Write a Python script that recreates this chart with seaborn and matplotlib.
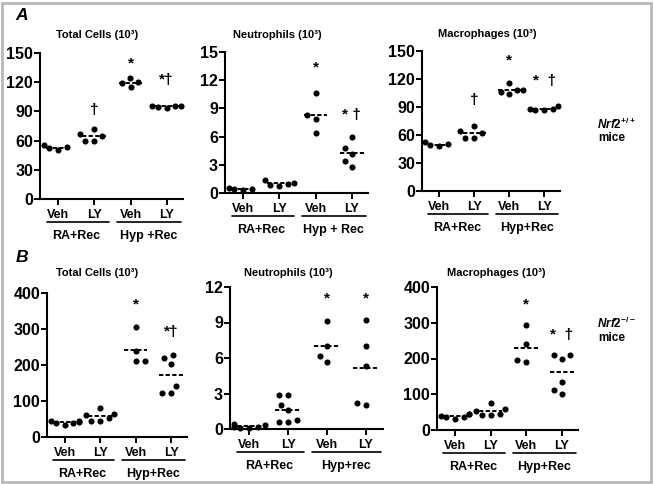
import warnings
import numpy as np
import pandas as pd
import matplotlib
matplotlib.use("Agg")
import matplotlib.pyplot as plt
import matplotlib.transforms as mtransforms
from matplotlib.patches import Rectangle
import seaborn as sns

warnings.filterwarnings("ignore")

# ---------------- data ----------------
groups = ["RA Veh", "RA LY", "Hyp Veh", "Hyp LY"]
tick_labels = ["Veh", "LY", "Veh", "LY"]

# Nrf2+/+ mice
a_total = [[53, 50, 55, 52], [65, 72, 67, 60, 60], [119, 124, 120, 115], [96, 96, 93, 96, 95]]
a_neut = [[0.4, 0.3, 0.5, 0.4], [1.1, 1.4, 0.7, 1.0, 0.9], [8.3, 10.6, 7.9, 6.4], [4.8, 6.0, 4.2, 2.8, 3.4]]
a_macro = [[50, 48, 52, 49], [62, 70, 64, 57, 57], [108, 116, 104, 106, 108], [88, 91, 87, 87, 88]]
# Nrf2-/- mice
b_total = [[42, 38, 45, 33, 40, 44], [60, 80, 52, 45, 45, 65], [305, 240, 212, 212], [228, 220, 204, 141, 121, 121]]
b_neut = [[0.2, 0.1, 0.3, 0.4, 0.2, 0.1], [2.0, 2.9, 2.9, 0.8, 0.55, 0.55, 1.6], [9.1, 7.0, 6.2, 5.7], [9.25, 7.0, 5.3, 2.05, 2.2]]
b_macro = [[40, 32, 44, 35, 46, 36], [53, 75, 45, 42, 58, 43], [293, 240, 191, 196], [210, 200, 209, 135, 102, 113]]

titles = ["Total Cells (10³)", "Neutrophils (10³)", "Macrophages (10³)"]
a_group_labels = [["RA+Rec", "Hyp +Rec"], ["RA+Rec", "Hyp + Rec"], ["RA+Rec", "Hyp+Rec"]]
b_group_labels = [["RA+Rec", "Hyp+Rec"], ["RA+Rec", "Hyp+rec"], ["RA+Rec", "Hyp+Rec"]]

# significance marks and their heights (data units)
a_sig = [["", "†", "*", "*†"], ["", "", "*", "* †"], ["", "†", "*", "*  †"]]
a_sig_y = [[0, 91, 139, 122], [0, 0, 13.4, 8.3], [0, 97, 140, 118]]
b_sig = [["", "", "*", "*†"], ["", "", "*", "*"], ["", "", "*", "*  †"]]
b_sig_y = [[0, 0, 367, 293], [0, 0, 11.0, 11.0], [0, 0, 352, 267]]

a_ymax = [150, 15, 150]
a_ystep = [30, 3, 30]
b_ymax = [400, 12, 400]
b_ystep = [100, 3, 100]

# ---------------- style ----------------
sns.set_theme(style="ticks")
plt.rcParams["font.family"] = ["Liberation Sans", "DejaVu Sans"]
plt.rcParams["font.weight"] = "bold"
plt.rcParams["mathtext.fontset"] = "custom"
plt.rcParams["mathtext.it"] = "Liberation Sans:italic"
plt.rcParams["mathtext.rm"] = "Liberation Sans:bold"
for k in ["text.color", "axes.labelcolor", "xtick.color", "ytick.color", "axes.edgecolor"]:
    plt.rcParams[k] = "black"

W, H = 654, 484
fig = plt.figure(figsize=(W / 100, H / 100), dpi=100)
fig.patch.set_facecolor("white")

LAYOUT_SIZE = 6.2   # marker size used to lay out the swarm (spread like Prism)
DOT_SIZE = 4.4      # marker size actually drawn


def px_rect(x0, x1, ytop, ybot):
    return [x0 / W, 1 - ybot / H, (x1 - x0) / W, (ybot - ytop) / H]


def fpos(x, y):
    return x / W, 1 - y / H


rects_a = [(40, 183, 53, 199), (225, 368, 52, 193), (422, 560, 51, 191)]
rects_b = [(47, 187, 293, 437), (230, 383, 287, 429), (437, 578, 287, 430)]
title_pos_a = [(97, 35), (277, 35), (487, 34)]
title_pos_b = [(97, 273), (288, 273), (496, 273)]

all_axes = []


def panel(rect, values, ymax, ystep, sig, sig_y, glabels):
    ax = fig.add_axes(px_rect(*rect))
    df = pd.DataFrame({
        "group": [g for g, v in zip(groups, values) for _ in v],
        "value": [x for v in values for x in v],
    })
    sns.swarmplot(data=df, x="group", y="value", order=groups, color="black",
                  size=LAYOUT_SIZE, ax=ax, linewidth=0)
    for c in ax.collections:
        c.set_clip_on(False)
    means = df.groupby("group")["value"].mean().reindex(groups).to_numpy()
    ax.hlines(means, np.arange(4) - 0.33, np.arange(4) + 0.33, colors="black",
              linestyles=(0, (2.2, 1.2)), linewidth=1.4, zorder=1)
    ax.set_xlim(-0.5, 3.45)
    ax.set_ylim(0, ymax)
    ax.set_yticks(np.arange(0, ymax + ystep / 2, ystep))
    ax.set_xticks(range(4))
    ax.set_xticklabels(tick_labels, fontsize=9, fontweight="bold")
    ax.tick_params(axis="y", labelsize=11.5, length=4, width=1.4, direction="out", pad=1)
    ax.tick_params(axis="x", length=4, width=1.4, direction="out", pad=3)
    for lab in ax.get_yticklabels():
        lab.set_fontweight("bold")
    ax.set_xlabel("")
    ax.set_ylabel("")
    sns.despine(ax=ax)
    ax.spines["left"].set_linewidth(1.5)
    ax.spines["bottom"].set_linewidth(1.5)
    # group underline + labels
    tline = mtransforms.offset_copy(ax.get_xaxis_transform(), fig=fig, y=-23, units="dots")
    tlab = mtransforms.offset_copy(ax.get_xaxis_transform(), fig=fig, y=-37, units="dots")
    for (xa, xb), lab, xc in zip([(-0.32, 1.4), (1.62, 3.4)], glabels, [0.5, 2.5]):
        ax.plot([xa, xb], [0, 0], color="black", lw=1.2, transform=tline, clip_on=False)
        ax.text(xc, 0, lab, transform=tlab, ha="center", va="center",
                fontsize=9, fontweight="bold")
    for i, (s, y) in enumerate(zip(sig, sig_y)):
        if s:
            ax.text(i, y, s, ha="center", va="center", fontsize=11, fontweight="bold")
    all_axes.append(ax)
    return ax


for i in range(3):
    panel(rects_a[i], [a_total, a_neut, a_macro][i], a_ymax[i], a_ystep[i],
          a_sig[i], a_sig_y[i], a_group_labels[i])
    fig.text(*fpos(*title_pos_a[i]), titles[i], ha="center", va="center",
             fontsize=8, fontweight="bold")
    panel(rects_b[i], [b_total, b_neut, b_macro][i], b_ymax[i], b_ystep[i],
          b_sig[i], b_sig_y[i], b_group_labels[i])
    fig.text(*fpos(*title_pos_b[i]), titles[i], ha="center", va="center",
             fontsize=8, fontweight="bold")

fig.text(*fpos(22, 15), "A", ha="center", va="center", fontsize=12.5,
         fontweight="bold", fontstyle="italic")
fig.text(*fpos(22, 257), "B", ha="center", va="center", fontsize=12.5,
         fontweight="bold", fontstyle="italic")

fig.text(*fpos(597, 124), r"$\mathit{Nrf2}^{+/+}$", ha="left", va="center", fontsize=8.5)
fig.text(*fpos(598, 138), "mice", ha="left", va="center", fontsize=8.5, fontweight="bold")
fig.text(*fpos(597, 323), r"$\mathit{Nrf2}^{-/-}$", ha="left", va="center", fontsize=8.5)
fig.text(*fpos(598, 338), "mice", ha="left", va="center", fontsize=8.5, fontweight="bold")

fig.patches.append(Rectangle((2 / W, 2 / H), 649 / W, 479 / H, transform=fig.transFigure,
                             fill=False, edgecolor="#b8b8b8", linewidth=2))

# lay out swarms with the wider marker, then freeze positions and draw smaller dots
fig.canvas.draw()
for ax in all_axes:
    for c in ax.collections:
        if "draw" in c.__dict__:
            del c.__dict__["draw"]
        if hasattr(c, "get_sizes") and len(c.get_offsets()) and c.get_sizes().size:
            if np.isclose(c.get_sizes()[0], LAYOUT_SIZE ** 2):
                c.set_sizes([DOT_SIZE ** 2])

fig.savefig("out.png", dpi=100, facecolor="white")
